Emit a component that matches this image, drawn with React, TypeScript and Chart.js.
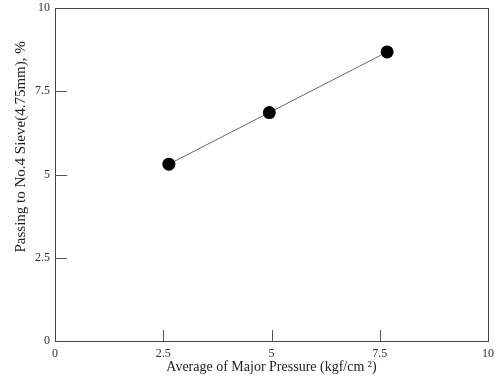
import React, { useEffect, useRef } from "react";
import { Chart, registerables } from "chart.js";

Chart.register(...registerables);

const pressure = [2.63, 4.95, 7.67];
const passing = [5.31, 6.86, 8.68];
const xTicks = [0, 2.5, 5, 7.5, 10];
const yTicks = [0, 2.5, 5, 7.5, 10];
const xTitle = "Average of Major Pressure (kgf/cm \u00B2)";
const yTitle = "Passing to No.4 Sieve(4.75mm), %";

const FONT = "'Liberation Serif', 'Times New Roman', serif";

const framePlugin = {
  id: "frame",
  afterDraw(chart: any) {
    const { ctx, chartArea: a, scales } = chart;
    ctx.save();
    ctx.strokeStyle = "#444";
    ctx.lineWidth = 1;
    ctx.strokeRect(Math.round(a.left) + 0.5, Math.round(a.top) + 0.5, Math.round(a.right - a.left), Math.round(a.bottom - a.top));
    ctx.strokeStyle = "#555";
    ctx.beginPath();
    xTicks.slice(1, -1).forEach((v) => {
      const px = Math.round(scales.x.getPixelForValue(v)) + 0.5;
      ctx.moveTo(px, a.bottom);
      ctx.lineTo(px, a.bottom - 11);
    });
    yTicks.slice(1, -1).forEach((v) => {
      const py = Math.round(scales.y.getPixelForValue(v)) + 0.5;
      ctx.moveTo(a.left, py);
      ctx.lineTo(a.left + 12, py);
    });
    ctx.stroke();
    // y title
    ctx.fillStyle = "#222";
    ctx.font = `15px ${FONT}`;
    ctx.textAlign = "center";
    ctx.textBaseline = "middle";
    ctx.translate(21, a.top + (a.bottom - a.top) * 0.417);
    ctx.rotate(-Math.PI / 2);
    ctx.fillText(yTitle, 0, 0);
    ctx.restore();
  },
};

export default function App() {
  const ref = useRef<HTMLCanvasElement>(null);
  useEffect(() => {
    document.body.style.margin = "0";
    const chart = new Chart(ref.current!, {
      type: "scatter",
      data: {
        datasets: [
          {
            data: pressure.map((x, i) => ({ x, y: passing[i] })),
            showLine: true,
            borderColor: "#666",
            borderWidth: 1,
            pointRadius: 6.5,
            pointHoverRadius: 6.5,
            pointBackgroundColor: "#000",
            pointBorderWidth: 0,
          },
        ],
      },
      options: {
        responsive: false,
        animation: false,
        plugins: { legend: { display: false }, tooltip: { enabled: false } },
        layout: { padding: { top: 8, right: 7, left: 0, bottom: 0 } },
        scales: {
          x: {
            type: "linear",
            min: 0,
            max: 10,
            afterBuildTicks: (s: any) => { s.ticks = xTicks.map((v) => ({ value: v })); },
            afterFit: (s: any) => { s.height = 39; s.paddingLeft = 0; s.paddingRight = 0; },
            grid: { display: false, drawTicks: false },
            border: { display: false },
            ticks: {
              color: "#333",
              font: { family: FONT, size: 12 },
              padding: 6,
              maxRotation: 0,
              autoSkip: false,
              callback: (v: any) => String(v),
            },
            title: {
              display: true,
              text: xTitle,
              color: "#222",
              font: { family: FONT, size: 14 },
              padding: { top: 0, bottom: 4 },
            },
          },
          y: {
            type: "linear",
            min: 0,
            max: 10,
            afterBuildTicks: (s: any) => { s.ticks = yTicks.map((v) => ({ value: v })); },
            afterFit: (s: any) => { s.width = 55; s.paddingTop = 0; s.paddingBottom = 0; },
            grid: { display: false, drawTicks: false },
            border: { display: false },
            ticks: {
              color: "#333",
              font: { family: FONT, size: 12 },
              padding: 5,
              autoSkip: false,
              callback: (v: any) => String(v),
            },
          },
        },
      },
      plugins: [framePlugin],
    } as any);
    return () => chart.destroy();
  }, []);
  return (
    <div style={{ position: "absolute", left: 0, top: 0, width: 495, height: 380 }}>
      <canvas ref={ref} width={495} height={380} />
    </div>
  );
}
